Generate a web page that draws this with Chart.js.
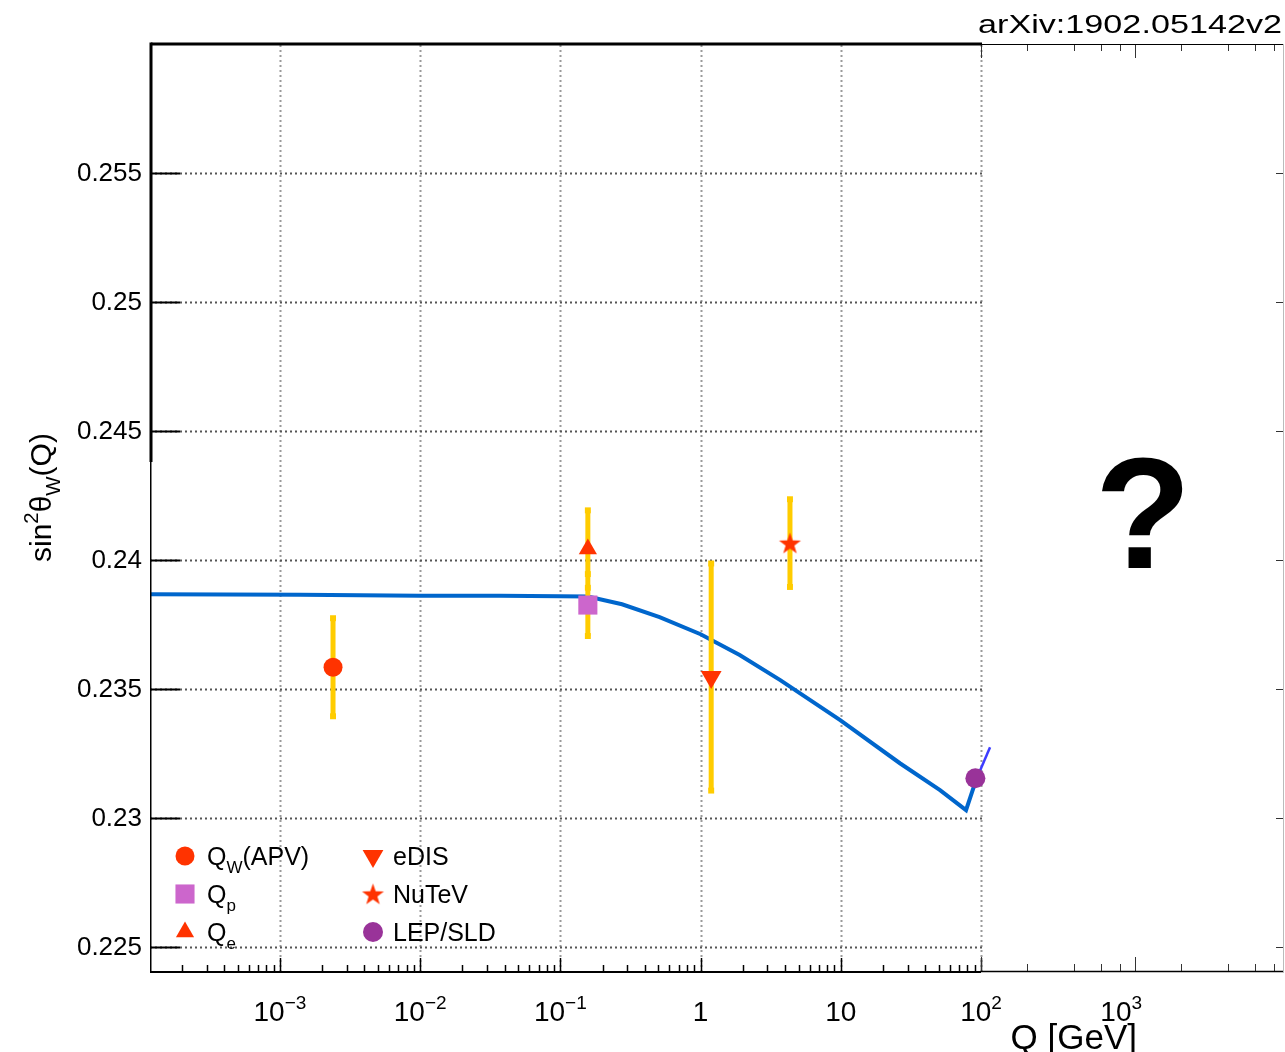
<!DOCTYPE html>
<html>
<head>
<meta charset="utf-8">
<title>sin2 theta_W running</title>
<script src="https://cdn.jsdelivr.net/npm/chart.js@4.4.1/dist/chart.umd.min.js"></script>
<style>
  html, body { margin: 0; padding: 0; background: #fff; }
  #wrap { width: 1285px; height: 1052px; position: relative; }
</style>
</head>
<body>
<div id="wrap"><canvas id="chart" width="1285" height="1052"></canvas></div>
<script>
'use strict';

// SM running of sin^2 theta_W
const curveQ = [1.18e-4, 1.39e-3, 0.01, 0.037, 0.1, 0.157, 0.275, 0.51, 1.0, 1.9, 3.7, 9.9, 26.4, 51, 78.2, 92];
const curveS = [0.23868, 0.23866, 0.23862, 0.23862, 0.23860, 0.23859, 0.23829, 0.23779, 0.23713, 0.23632, 0.23535, 0.23380, 0.23213, 0.23109, 0.23031, 0.23147];
const tailQ = [92, 116];
const tailS = [0.23147, 0.23275];

// measurements
const expLabels = ['Q_{W}(APV)', 'Q_{p}', 'Q_{e}', 'eDIS', 'NuTeV', 'LEP/SLD'];
const expQ = [0.00239, 0.157, 0.157, 1.19, 4.34, 91.19];
const expS = [0.23585, 0.23826, 0.24043, 0.23547, 0.24066, 0.23155];
const expErr = [0.0019, 0.0012, 0.0015, 0.0044, 0.0017, 0];

// axes
const yTicks = [0.225, 0.23, 0.235, 0.24, 0.245, 0.25, 0.255];
const yTickLabels = ['0.225', '0.23', '0.235', '0.24', '0.245', '0.25', '0.255'];
const xDecades = [1e-3, 1e-2, 1e-1, 1, 10, 100, 1000];
const xDecadeLabels = ['10^{\u22123}', '10^{\u22122}', '10^{\u22121}', '1', '10', '10^{2}', '10^{3}'];
const rightTicks = [100, 200, 400, 600, 800, 1000, 2000, 4000, 6000, 8000];

const FONT = '"Liberation Sans", Arial, Helvetica, sans-serif';
const RED = '#ff3300';
const YELLOW = '#ffcc00';

const starImg = makeStar(RED, 11.5, 4.6);

const markerStyles = [
  { pointStyle: 'circle', radius: 9.5, rotation: 0, color: RED },
  { pointStyle: 'rect', radius: 13.5, rotation: 0, color: '#cc66cc' },
  { pointStyle: 'triangle', radius: 10.5, rotation: 0, color: RED },
  { pointStyle: 'triangle', radius: 12, rotation: 180, color: RED },
  { pointStyle: starImg, radius: 10, rotation: 0, color: RED },
  { pointStyle: 'circle', radius: 10, rotation: 0, color: '#993399' }
];

function makeStar(color, R, r) {
  const c = document.createElement('canvas');
  const size = Math.ceil(R * 2 + 2);
  c.width = size;
  c.height = size;
  const g = c.getContext('2d');
  g.fillStyle = color;
  g.beginPath();
  for (let i = 0; i < 10; i++) {
    const rad = i % 2 ? r : R;
    const a = -Math.PI / 2 + i * Math.PI / 5;
    const px = size / 2 + rad * Math.cos(a);
    const py = size / 2 + 1 + rad * Math.sin(a);
    if (i === 0) g.moveTo(px, py); else g.lineTo(px, py);
  }
  g.closePath();
  g.fill();
  return c;
}

function errorBarData() {
  const pts = [];
  expQ.forEach((q, i) => {
    if (!expErr[i]) return;
    pts.push({ x: q, y: expS[i] - expErr[i] });
    pts.push({ x: q, y: expS[i] + expErr[i] });
    pts.push({ x: q, y: null });
  });
  return pts;
}

// text with _{sub} and ^{sup}
function richParts(text) {
  return text.split(/(_\{[^}]*\}|\^\{[^}]*\})/).filter(Boolean);
}

function drawRich(ctx, text, x, y, size) {
  for (const p of richParts(text)) {
    let s = p;
    let dy = 0;
    let fs = size;
    if (p.startsWith('_{')) { s = p.slice(2, -1); dy = size * 0.3; fs = size * 0.68; }
    else if (p.startsWith('^{')) { s = p.slice(2, -1); dy = -size * 0.42; fs = size * 0.68; }
    ctx.font = `${fs}px ${FONT}`;
    ctx.fillText(s, x, y + dy);
    x += ctx.measureText(s).width;
  }
  return x;
}

function richWidth(ctx, text, size) {
  let w = 0;
  for (const p of richParts(text)) {
    let s = p;
    let fs = size;
    if (p.startsWith('_{') || p.startsWith('^{')) { s = p.slice(2, -1); fs = size * 0.68; }
    ctx.font = `${fs}px ${FONT}`;
    w += ctx.measureText(s).width;
  }
  return w;
}

function drawMarker(ctx, st, x, y) {
  const s = st.pointStyle;
  ctx.save();
  ctx.fillStyle = st.color;
  if (typeof s === 'object') {
    ctx.drawImage(s, x - s.width / 2, y - s.height / 2);
    ctx.restore();
    return;
  }
  ctx.translate(x, y);
  ctx.rotate(st.rotation * Math.PI / 180);
  const r = st.radius;
  ctx.beginPath();
  if (s === 'circle') {
    ctx.arc(0, 0, r, 0, Math.PI * 2);
  } else if (s === 'rect') {
    const h = r * Math.SQRT1_2;
    ctx.rect(-h, -h, 2 * h, 2 * h);
  } else {
    ctx.moveTo(0, -r);
    ctx.lineTo(r * Math.sin(2 * Math.PI / 3), r / 2);
    ctx.lineTo(-r * Math.sin(2 * Math.PI / 3), r / 2);
    ctx.closePath();
  }
  ctx.fill();
  ctx.restore();
}

function line(ctx, x1, y1, x2, y2) {
  ctx.beginPath();
  ctx.moveTo(x1, y1);
  ctx.lineTo(x2, y2);
  ctx.stroke();
}

const rootStyle = {
  id: 'rootStyle',
  beforeDatasetsDraw(chart) {
    const { ctx, chartArea: a, scales } = chart;
    const xs = scales.x;
    const ys = scales.y;
    const xEdge = xs.getPixelForValue(100) + 1;

    ctx.save();
    ctx.lineWidth = 2;
    ctx.setLineDash([2, 3]);

    // vertical grid
    ctx.strokeStyle = '#9a9a9a';
    for (const d of xDecades) {
      if (d > 100) continue;
      const px = Math.round(xs.getPixelForValue(d)) + 0.5;
      line(ctx, px, a.top + 2, px, a.bottom);
    }

    // horizontal grid
    ctx.strokeStyle = '#555';
    for (const v of yTicks) {
      const py = Math.round(ys.getPixelForValue(v)) + 0.5;
      line(ctx, a.left, py, xEdge, py);
    }
    ctx.restore();
  },

  afterDatasetsDraw(chart) {
    const { ctx, chartArea: a, scales } = chart;
    const xs = scales.x;
    const x2 = scales.x2;
    const ys = scales.y;
    const xEdge = xs.getPixelForValue(100);

    ctx.save();
    ctx.strokeStyle = '#000';
    ctx.fillStyle = '#000';

    // bottom ticks, left panel
    ctx.lineWidth = 1.5;
    for (let e = -4; e <= 2; e++) {
      for (let m = 1; m <= 9; m++) {
        const v = m * Math.pow(10, e);
        if (v < xs.min || v > 100.001) continue;
        const px = Math.round(xs.getPixelForValue(v)) + 0.5;
        line(ctx, px, a.bottom, px, a.bottom - (m === 1 ? 14 : 7));
      }
    }

    // ticks of the right panel (its own log scale)
    ctx.lineWidth = 1;
    ctx.strokeStyle = '#333';
    for (const v of rightTicks) {
      const px = Math.round(x2.getPixelForValue(v)) + 0.5;
      const len = (v === 100 || v === 1000) ? 14 : 7;
      line(ctx, px, a.bottom - 1, px, a.bottom - 1 - len);
      line(ctx, px, a.top + 1, px, a.top + 1 + len);
    }
    for (const v of yTicks) {
      const py = Math.round(ys.getPixelForValue(v)) + 0.5;
      line(ctx, a.right - 8, py, a.right, py);
    }

    // y ticks, left
    ctx.strokeStyle = '#000';
    ctx.lineWidth = 2;
    for (const v of yTicks) {
      const py = Math.round(ys.getPixelForValue(v)) + 0.5;
      line(ctx, a.left, py, a.left + 30, py);
    }

    // frame
    ctx.lineWidth = 3;
    line(ctx, a.left + 1, a.top + 1, xEdge + 1, a.top + 1);
    line(ctx, a.left + 1, a.top - 0.5, a.left + 1, 462);
    ctx.lineWidth = 1.5;
    line(ctx, a.left + 0.75, 462, a.left + 0.75, a.bottom + 1);
    ctx.lineWidth = 2;
    line(ctx, a.left, a.bottom, xEdge, a.bottom);
    ctx.lineWidth = 1.5;
    line(ctx, xEdge, a.bottom - 0.5, a.right, a.bottom - 0.5);
    ctx.lineWidth = 1;
    line(ctx, xEdge, a.top + 1.5, a.right, a.top + 1.5);
    ctx.strokeStyle = '#bbb';
    line(ctx, a.right - 0.5, a.top + 1, a.right - 0.5, a.bottom);

    // y tick labels
    ctx.fillStyle = '#000';
    ctx.font = `26px ${FONT}`;
    ctx.textAlign = 'right';
    ctx.textBaseline = 'middle';
    yTicks.forEach((v, i) => {
      ctx.fillText(yTickLabels[i], 142, ys.getPixelForValue(v) + 1);
    });

    // x tick labels
    ctx.textAlign = 'left';
    ctx.textBaseline = 'alphabetic';
    xDecades.forEach((v, i) => {
      const w = richWidth(ctx, xDecadeLabels[i], 28);
      drawRich(ctx, xDecadeLabels[i], xs.getPixelForValue(v) - w / 2, 1021, 28);
    });

    // axis titles
    ctx.font = `35px ${FONT}`;
    ctx.textAlign = 'right';
    ctx.fillText('Q [GeV]', 1137, 1049);

    ctx.save();
    ctx.translate(51, 562);
    ctx.rotate(-Math.PI / 2);
    ctx.textAlign = 'left';
    drawRich(ctx, 'sin^{2}\u03b8_{W}(Q)', 0, 0, 30);
    ctx.restore();

    // arXiv tag, stretched like the original
    ctx.save();
    ctx.font = `26px ${FONT}`;
    ctx.textAlign = 'left';
    const tag = 'arXiv:1902.05142v2';
    const sx = 304 / ctx.measureText(tag).width;
    ctx.translate(978, 33);
    ctx.scale(sx, 1);
    ctx.fillText(tag, 0, 0);
    ctx.restore();

    // question mark
    ctx.font = `bold 158px ${FONT}`;
    ctx.textAlign = 'center';
    ctx.fillText('?', 1143, 568);

    // legend
    const rows = [856, 894, 932];
    const cols = [[185, 207], [373, 393]];
    ctx.textAlign = 'left';
    expLabels.forEach((label, i) => {
      const col = cols[Math.floor(i / 3)];
      const y = rows[i % 3];
      drawMarker(ctx, markerStyles[i], col[0], y);
      ctx.fillStyle = '#000';
      drawRich(ctx, label, col[1], y + 9, 25);
    });

    ctx.restore();
  }
};

const datasets = [
  {
    type: 'line',
    data: curveQ.map((q, i) => ({ x: q, y: curveS[i] })),
    borderColor: '#0066cc',
    borderWidth: 4,
    pointRadius: 0,
    tension: 0,
    order: 3
  },
  {
    type: 'line',
    data: tailQ.map((q, i) => ({ x: q, y: tailS[i] })),
    borderColor: '#3c3cff',
    borderWidth: 2.5,
    pointRadius: 0,
    order: 3
  },
  {
    type: 'line',
    data: errorBarData(),
    borderColor: YELLOW,
    borderWidth: 5,
    borderCapStyle: 'butt',
    spanGaps: false,
    pointStyle: 'rect',
    pointRadius: 4.2,
    pointBorderWidth: 0,
    pointBackgroundColor: YELLOW,
    order: 2
  }
];

expQ.forEach((q, i) => {
  const st = markerStyles[i];
  datasets.push({
    type: 'scatter',
    label: expLabels[i],
    data: [{ x: q, y: expS[i] }],
    pointStyle: st.pointStyle,
    pointRadius: st.radius,
    pointRotation: st.rotation,
    pointBackgroundColor: st.color,
    pointBorderColor: st.color,
    pointBorderWidth: 0,
    order: 1
  });
});

new Chart(document.getElementById('chart'), {
  type: 'line',
  data: { datasets },
  options: {
    responsive: false,
    animation: false,
    devicePixelRatio: 1,
    layout: { autoPadding: false, padding: { left: 150, top: 43, right: 1, bottom: 80 } },
    plugins: { legend: { display: false }, tooltip: { enabled: false } },
    events: [],
    scales: {
      x: { type: 'logarithmic', min: 1.183e-4, max: 1.449e4, display: false },
      x2: { type: 'logarithmic', axis: 'x', position: 'bottom', min: 4.02e-4, max: 9290, display: false },
      y: { type: 'linear', min: 0.22404, max: 0.26004, display: false }
    }
  },
  plugins: [rootStyle]
});
</script>
</body>
</html>
